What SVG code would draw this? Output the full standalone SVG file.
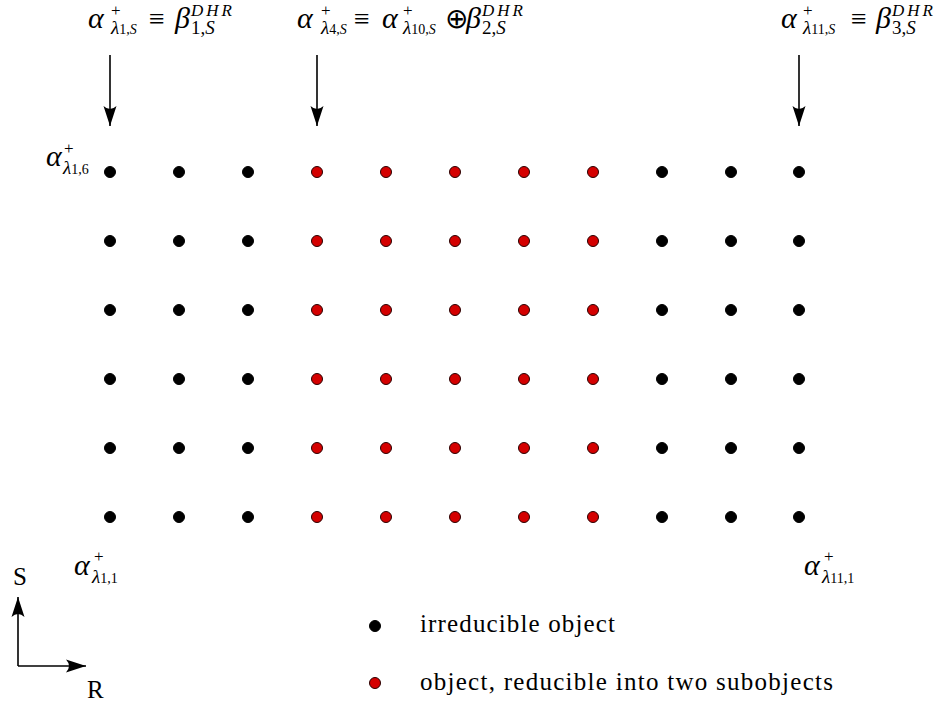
<svg xmlns="http://www.w3.org/2000/svg" width="940" height="706" viewBox="0 0 940 706">
<style>
.lab{font-family:"Liberation Serif",serif;font-style:italic;font-size:30px;fill:#000}
.r{font-style:normal;font-size:28px}
.s{font-size:19px}
.p{font-style:normal;font-size:17px}
.d{font-size:17px;letter-spacing:3px}
.q{font-size:14px}
.n{font-style:normal}
.t{font-family:"Liberation Serif",serif;font-size:25px;fill:#000}
.b{fill:#000;stroke:#000;stroke-width:1}
.red{fill:#d40000;stroke:#2a0000;stroke-width:1}
.ln{stroke:#000;stroke-width:1.6;fill:none}
</style>
<defs>
<marker id="ah" viewBox="-20 -7 22 14" refX="0" refY="0" markerWidth="22" markerHeight="14" markerUnits="userSpaceOnUse" orient="auto">
<path d="M0,0 L-20,-6.5 Q-14,0 -20,6.5 Z" fill="#000"/>
</marker>
</defs>
<g id="connectors">
<line class="ln" x1="110" y1="55" x2="110" y2="126" marker-end="url(#ah)"/>
<line class="ln" x1="317" y1="55" x2="317" y2="126" marker-end="url(#ah)"/>
<line class="ln" x1="799" y1="55" x2="799" y2="126" marker-end="url(#ah)"/>
<line class="ln" x1="18" y1="666" x2="18" y2="597" marker-end="url(#ah)"/>
<line class="ln" x1="18" y1="666" x2="86" y2="666" marker-end="url(#ah)"/>
</g>
<g id="label1">
<text class="lab"><tspan x="88" y="28">α</tspan><tspan class="p" x="111" y="16">+</tspan><tspan class="s" x="111" y="34">λ</tspan><tspan class="q n">1,</tspan><tspan class="q">S</tspan><tspan class="r" x="149" y="28">≡</tspan><tspan x="175" y="28">β</tspan><tspan class="d" x="191" y="16">DHR</tspan><tspan class="s n" x="191" y="34">1,</tspan><tspan class="s">S</tspan></text>
</g>
<g id="label2">
<text class="lab"><tspan x="297" y="28">α</tspan><tspan class="p" x="321" y="16">+</tspan><tspan class="s" x="321" y="34">λ</tspan><tspan class="q n">4,</tspan><tspan class="q">S</tspan><tspan class="r" x="354" y="28">≡</tspan><tspan x="382" y="28">α</tspan><tspan class="p" x="403" y="16">+</tspan><tspan class="s" x="403" y="34">λ</tspan><tspan class="q n">10,</tspan><tspan class="q">S</tspan><tspan class="r" x="445" y="28">⊕</tspan><tspan x="466" y="28">β</tspan><tspan class="d" x="482" y="16">DHR</tspan><tspan class="s n" x="482" y="34">2,</tspan><tspan class="s">S</tspan></text>
</g>
<g id="label3">
<text class="lab"><tspan x="781" y="28">α</tspan><tspan class="p" x="803" y="16">+</tspan><tspan class="s" x="803" y="34">λ</tspan><tspan class="q n">11,</tspan><tspan class="q">S</tspan><tspan class="r" x="851" y="28">≡</tspan><tspan x="876" y="28">β</tspan><tspan class="d" x="892" y="16">DHR</tspan><tspan class="s n" x="892" y="34">3,</tspan><tspan class="s">S</tspan></text>
</g>
<g id="label-16">
<text class="lab"><tspan x="46" y="166">α</tspan><tspan class="p" x="64" y="154">+</tspan><tspan class="s" x="63" y="174">λ</tspan><tspan class="q n">1,6</tspan></text>
</g>
<g id="label-11">
<text class="lab"><tspan x="74" y="575">α</tspan><tspan class="p" x="94" y="562">+</tspan><tspan class="s" x="92" y="583">λ</tspan><tspan class="q n">1,1</tspan></text>
</g>
<g id="label-111">
<text class="lab"><tspan x="804" y="575">α</tspan><tspan class="p" x="824" y="562">+</tspan><tspan class="s" x="822" y="583">λ</tspan><tspan class="q n">11,1</tspan></text>
</g>
<g id="axes-labels">
<text class="t" font-size="22" x="13" y="585">S</text>
<text class="t" font-size="22" x="87" y="698">R</text>
</g>
<g id="grid">
<g class="b">
<circle cx="110" cy="172" r="5.5"/><circle cx="179" cy="172" r="5.5"/><circle cx="248" cy="172" r="5.5"/><circle cx="662" cy="172" r="5.5"/><circle cx="731" cy="172" r="5.5"/><circle cx="799" cy="172" r="5.5"/>
<circle cx="110" cy="241" r="5.5"/><circle cx="179" cy="241" r="5.5"/><circle cx="248" cy="241" r="5.5"/><circle cx="662" cy="241" r="5.5"/><circle cx="731" cy="241" r="5.5"/><circle cx="799" cy="241" r="5.5"/>
<circle cx="110" cy="310" r="5.5"/><circle cx="179" cy="310" r="5.5"/><circle cx="248" cy="310" r="5.5"/><circle cx="662" cy="310" r="5.5"/><circle cx="731" cy="310" r="5.5"/><circle cx="799" cy="310" r="5.5"/>
<circle cx="110" cy="379" r="5.5"/><circle cx="179" cy="379" r="5.5"/><circle cx="248" cy="379" r="5.5"/><circle cx="662" cy="379" r="5.5"/><circle cx="731" cy="379" r="5.5"/><circle cx="799" cy="379" r="5.5"/>
<circle cx="110" cy="448" r="5.5"/><circle cx="179" cy="448" r="5.5"/><circle cx="248" cy="448" r="5.5"/><circle cx="662" cy="448" r="5.5"/><circle cx="731" cy="448" r="5.5"/><circle cx="799" cy="448" r="5.5"/>
<circle cx="110" cy="517" r="5.5"/><circle cx="179" cy="517" r="5.5"/><circle cx="248" cy="517" r="5.5"/><circle cx="662" cy="517" r="5.5"/><circle cx="731" cy="517" r="5.5"/><circle cx="799" cy="517" r="5.5"/>
</g>
<g class="red">
<circle cx="317" cy="172" r="5.5"/><circle cx="386" cy="172" r="5.5"/><circle cx="455" cy="172" r="5.5"/><circle cx="524" cy="172" r="5.5"/><circle cx="593" cy="172" r="5.5"/>
<circle cx="317" cy="241" r="5.5"/><circle cx="386" cy="241" r="5.5"/><circle cx="455" cy="241" r="5.5"/><circle cx="524" cy="241" r="5.5"/><circle cx="593" cy="241" r="5.5"/>
<circle cx="317" cy="310" r="5.5"/><circle cx="386" cy="310" r="5.5"/><circle cx="455" cy="310" r="5.5"/><circle cx="524" cy="310" r="5.5"/><circle cx="593" cy="310" r="5.5"/>
<circle cx="317" cy="379" r="5.5"/><circle cx="386" cy="379" r="5.5"/><circle cx="455" cy="379" r="5.5"/><circle cx="524" cy="379" r="5.5"/><circle cx="593" cy="379" r="5.5"/>
<circle cx="317" cy="448" r="5.5"/><circle cx="386" cy="448" r="5.5"/><circle cx="455" cy="448" r="5.5"/><circle cx="524" cy="448" r="5.5"/><circle cx="593" cy="448" r="5.5"/>
<circle cx="317" cy="517" r="5.5"/><circle cx="386" cy="517" r="5.5"/><circle cx="455" cy="517" r="5.5"/><circle cx="524" cy="517" r="5.5"/><circle cx="593" cy="517" r="5.5"/>
</g>
</g>
<g id="legend">
<circle class="b" cx="375" cy="626" r="5.5"/>
<text class="t" x="420" y="632" textLength="195" lengthAdjust="spacing">irreducible object</text>
<circle class="red" cx="375" cy="683" r="5.5"/>
<text class="t" x="420" y="690" textLength="413" lengthAdjust="spacing">object, reducible into two subobjects</text>
</g>
</svg>
